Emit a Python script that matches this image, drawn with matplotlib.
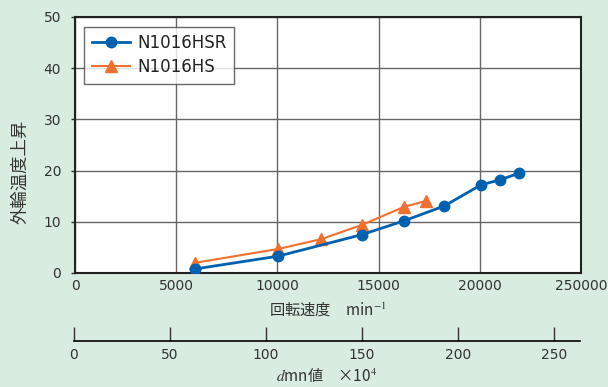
import matplotlib
matplotlib.use('Agg')
import matplotlib.pyplot as plt
from matplotlib.ticker import FixedLocator, FixedFormatter

plt.rcParams['font.family'] = ['DejaVu Sans', 'Noto Sans CJK JP']
plt.rcParams['mathtext.fontset'] = 'stix'
cjk = ['Noto Sans CJK JP', 'DejaVu Sans']

# data
speed_hsr = [5950, 10050, 14180, 16270, 18250, 20050, 21000, 21950]
temp_hsr = [0.8, 3.3, 7.5, 10.2, 13.1, 17.2, 18.2, 19.5]
speed_hs = [5950, 10050, 12150, 14180, 16250, 17360]
temp_hs = [2.0, 4.7, 6.6, 9.4, 12.9, 14.1]

x_ticks = [0, 5000, 10000, 15000, 20000, 25000]
x_labels = ['0', '5000', '10000', '15000', '20000', '250000']
y_ticks = [0, 10, 20, 30, 40, 50]
dmn_ticks = [0, 50, 100, 150, 200, 250]

bg = '#d8ecdf'
blue = '#0060b0'
orange = '#f07030'

fig = plt.figure(figsize=(6.08, 3.87), dpi=100, facecolor=bg)
ax = fig.add_axes([75/608, 1 - 273/387, 506/608, 256/387])
ax.set_facecolor('white')

ax.plot(speed_hsr, temp_hsr, color=blue, lw=2, marker='o', ms=7.5, label='N1016HSR', zorder=4)
ax.plot(speed_hs, temp_hs, color=orange, lw=1.5, marker='^', ms=8, label='N1016HS', zorder=3)

ax.set_xlim(0, 25000)
ax.set_ylim(0, 50)
ax.xaxis.set_major_locator(FixedLocator(x_ticks))
ax.xaxis.set_major_formatter(FixedFormatter(x_labels))
ax.yaxis.set_major_locator(FixedLocator(y_ticks))
ax.grid(True, color='#666666', lw=1)
ax.tick_params(axis='x', length=0, pad=4, labelsize=10, colors='#333333')
ax.tick_params(axis='y', length=3, width=1, pad=7, labelsize=10, colors='#333333')
for s in ax.spines.values():
    s.set_linewidth(1.5)
    s.set_color('#222222')

ax.set_xlabel('回転速度　min$^{-1}$', fontsize=11, color='#333333', labelpad=6, family=cjk)
ax.set_ylabel('外輪温度上昇', fontsize=12.5, color='#333333', family=cjk)
ax.yaxis.set_label_coords(-0.09, 0.395)

leg = ax.legend(loc='upper left', bbox_to_anchor=(0.012, 0.975), frameon=True, fancybox=False,
                fontsize=12, handlelength=2.3, borderpad=0.45, labelspacing=0.35,
                handletextpad=0.4, borderaxespad=0.2)
leg.get_frame().set_edgecolor('#444444')
leg.get_frame().set_linewidth(1)
for t in leg.get_texts():
    t.set_color('#222222')

# secondary dmn scale
ax2 = fig.add_axes([74/608, 1 - 341/387, 506/608, 0.001])
ax2.set_facecolor('none')
for k in ['top', 'left', 'right']:
    ax2.spines[k].set_visible(False)
ax2.spines['bottom'].set_linewidth(1.2)
ax2.set_xlim(0, 263.5)
ax2.set_yticks([])
ax2.xaxis.set_major_locator(FixedLocator(dmn_ticks))
ax2.tick_params(axis='x', direction='in', length=10, width=1, pad=5, labelsize=10, colors='#333333')
ax2.set_xlabel('$d$mn値　×10$^4$', fontsize=11, color='#333333', labelpad=3, family=cjk)

fig.savefig('out.png', dpi=100, facecolor=bg)
